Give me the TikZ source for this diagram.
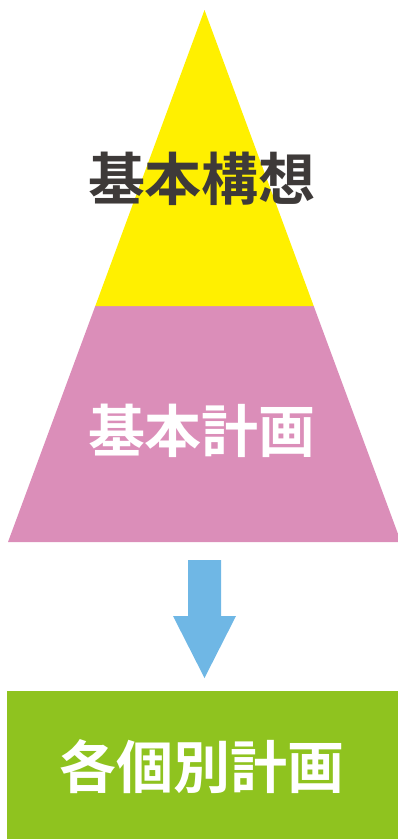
\documentclass[tikz,border=0pt]{standalone}
\usepackage{fontspec}
\newfontfamily\jpfont{Noto Sans CJK JP}[BoldFont={Noto Sans CJK JP Bold}]
\definecolor{tyellow}{HTML}{FFF000}
\definecolor{tpink}{HTML}{DB8EB9}
\definecolor{tblue}{HTML}{6FB7E5}
\definecolor{tgreen}{HTML}{8FC31F}
\definecolor{tdark}{HTML}{3E3A39}
\tikzset{
  lbl/.style={font=\jpfont\bfseries\fontsize{57}{60}\selectfont, inner sep=0pt, anchor=center},
}
\begin{document}
\begin{tikzpicture}[x=1pt,y=-1pt]
\useasboundingbox (0,0) rectangle (398,839);
% pyramid
\coordinate (apex) at (204.5,10);
\coordinate (ml) at (95.3,306);
\coordinate (mr) at (313.7,306);
\coordinate (bl) at (8,542);
\coordinate (br) at (401,542);
\begin{scope}
\clip (0,0) rectangle (398,839);
\fill[tpink] (ml) -- (mr) -- (br) -- (bl) -- cycle;
\end{scope}
\fill[tyellow] (apex) -- (mr) -- (ml) -- cycle;
% arrow
\fill[tblue] (188,560) -- (221,560) -- (221,616) -- (236,616) -- (204.5,678) -- (173,616) -- (188,616) -- cycle;
% green box
\fill[tgreen] (7,691) rectangle (398,839);
% labels
\node[lbl, text=tdark] (t1) at (202,179) {基本構想};
\node[lbl, text=white] (t2) at (202,431) {基本計画};
\node[lbl, text=white] (t3) at (202,767) {各個別計画};
\end{tikzpicture}
\end{document}
